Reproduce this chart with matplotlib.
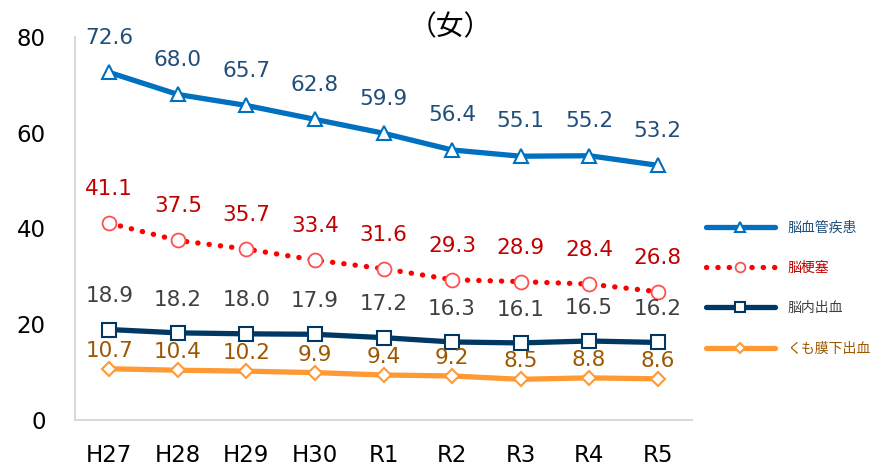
import matplotlib.pyplot as plt

plt.rcParams['font.family'] = ['DejaVu Sans', 'Noto Sans CJK JP']

years = ['H27', 'H28', 'H29', 'H30', 'R1', 'R2', 'R3', 'R4', 'R5']
cerebrovascular = [72.6, 68.0, 65.7, 62.8, 59.9, 56.4, 55.1, 55.2, 53.2]
infarction = [41.1, 37.5, 35.7, 33.4, 31.6, 29.3, 28.9, 28.4, 26.8]
hemorrhage = [18.9, 18.2, 18.0, 17.9, 17.2, 16.3, 16.1, 16.5, 16.2]
subarachnoid = [10.7, 10.4, 10.2, 9.9, 9.4, 9.2, 8.5, 8.8, 8.6]

fig = plt.figure(figsize=(8.75, 4.66), dpi=100)
ax = fig.add_axes([75 / 875, 46 / 466, 617 / 875, 383 / 466])
x = range(len(years))

# 系列ごとの設定: 値, 凡例, 線色, マーカー, ラベル色, ラベルのずれ
series = [
    (cerebrovascular, '脳血管疾患', '#0070C0', '^', '#1F4E79', 25),
    (infarction, '脳梗塞', '#FF0000', 'o', '#C00000', 24.5),
    (hemorrhage, '脳内出血', '#003864', 's', '#404040', 24),
    (subarachnoid, 'くも膜下出血', '#FF9933', 'D', '#9C5700', 13),
]

for vals, name, col, mk, lcol, off in series:
    if mk == 'o':
        ax.plot(x, vals, color=col, lw=3.8, linestyle=(0, (0.05, 2.1)),
                dash_capstyle='round', marker='o', markersize=10,
                markerfacecolor='white', markeredgecolor='#FF5050',
                markeredgewidth=1.3, label=name)
    else:
        ms = {'^': 10, 's': 10, 'D': 7}[mk]
        ax.plot(x, vals, color=col, lw=3.8, marker=mk, markersize=ms,
                markerfacecolor='white', markeredgecolor=col,
                markeredgewidth=1.5, label=name, solid_capstyle='round')
    for i, v in enumerate(vals):
        ax.annotate(f'{v:.1f}', (i, v), xytext=(0, off),
                    textcoords='offset points', ha='center', va='center',
                    fontsize=15.5, color=lcol)

ax.set_xlim(-0.5, 8.5)
ax.set_ylim(0, 80)
ax.set_yticks([0, 20, 40, 60, 80])
ax.set_xticks(list(x))
ax.set_xticklabels(years)
ax.tick_params(length=0, labelsize=16.5, colors='black')
ax.tick_params(axis='x', pad=17)
ax.tick_params(axis='y', pad=21)
for s in ['top', 'right']:
    ax.spines[s].set_visible(False)
for s in ['left', 'bottom']:
    ax.spines[s].set_color('#D9D9D9')
    ax.spines[s].set_linewidth(1.5)

fig.text(450 / 875, 1 - 27 / 466, '（女）', ha='center', va='center',
         fontsize=20, family=['Noto Sans CJK JP'])

leg = ax.legend(loc='center left', bbox_to_anchor=(693 / 875, 1 - 288 / 466),
                bbox_transform=fig.transFigure, frameon=False,
                handlelength=5.0, handletextpad=0.9, labelspacing=1.9,
                markerscale=0.7,
                prop={'family': ['Noto Sans CJK JP'], 'size': 10})
for t, (_, _, _, _, lcol, _) in zip(leg.get_texts(), series):
    t.set_color(lcol)

fig.savefig('out.png', dpi=100)
